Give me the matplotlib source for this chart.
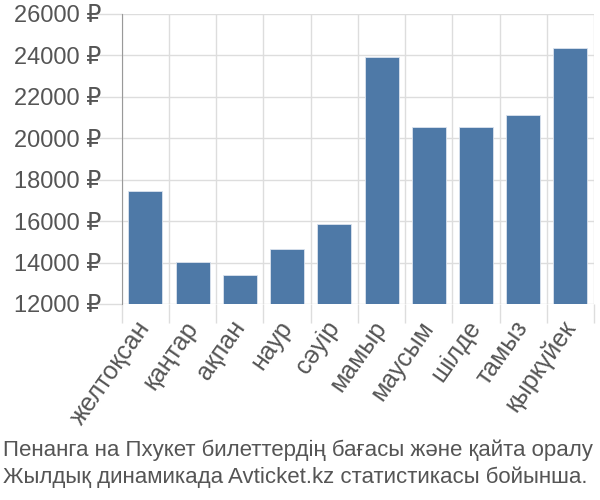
import matplotlib
matplotlib.use("Agg")
import matplotlib.pyplot as plt
import numpy as np

# ---------------------------------------------------------------------------
# Data
# ---------------------------------------------------------------------------

months = ["желтоқсан", "қаңтар", "ақпан", "наур", "сәуір",
          "мамыр", "маусым", "шілде", "тамыз", "қыркүйек"]
prices = [17470, 14030, 13400, 14670, 15850, 23910, 20560, 20560, 21110, 24360]
y_ticks = [12000, 14000, 16000, 18000, 20000, 22000, 24000, 26000]
caption = ("Пенанга на Пхукет билеттердің бағасы және қайта оралу\n"
           "Жылдық динамикада Avticket.kz статистикасы бойынша.")

BAR_COLOR = "#4e79a7"
TEXT_COLOR = "#555555"
GRID_COLOR = "#dddddd"

plt.rcParams["font.family"] = ["Liberation Sans", "DejaVu Sans"]

fig = plt.figure(figsize=(6, 5), dpi=100)
ax = fig.add_axes([0.203, 0.392, 0.787, 0.580])

x = np.arange(len(months))
ax.bar(x, prices, width=0.72, color=BAR_COLOR, edgecolor="#dbe3ee",
       linewidth=0.6, zorder=3)

ax.set_xlim(-0.5, len(months) - 0.5)
ax.set_ylim(12000, 26000)
ax.set_yticks(y_ticks)
ax.set_yticklabels([f"{v} ₽" for v in y_ticks])
ax.set_xticks(x)
ax.set_xticklabels(months, rotation=55, ha="right", va="center",
                   rotation_mode="anchor")

# category boundaries as grid lines and ticks below the axis
ax.set_xticks(np.arange(-0.5, len(months)), minor=True)
ax.grid(True, which="minor", axis="x", color=GRID_COLOR, linewidth=1, zorder=0)
ax.grid(True, which="major", axis="y", color=GRID_COLOR, linewidth=1, zorder=0)
ax.tick_params(axis="x", which="major", length=0, pad=14,
               labelsize=18, labelcolor=TEXT_COLOR)
ax.tick_params(axis="x", which="minor", length=14, color=GRID_COLOR, width=1)
ax.tick_params(axis="y", length=20, color=GRID_COLOR, width=1, pad=-5,
               labelsize=17, labelcolor=TEXT_COLOR)

for side in ("top", "right", "bottom"):
    ax.spines[side].set_visible(False)
ax.spines["left"].set_color("#999999")
ax.spines["left"].set_bounds(12000, 26000)

fig.text(0.005, 0.025, caption, ha="left", va="bottom", fontsize=16,
         color=TEXT_COLOR, linespacing=1.3)

fig.savefig("out.png", dpi=100)
